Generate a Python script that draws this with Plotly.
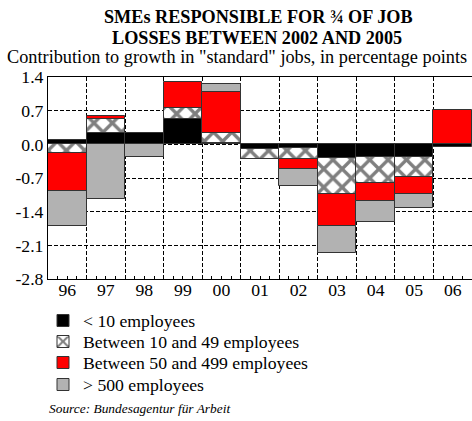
import plotly.graph_objects as go

# Contribution to growth in "standard" jobs, by firm size (percentage points)
years = ["96", "97", "98", "99", "00", "01", "02", "03", "04", "05", "06"]
lt_10 = [0.08, 0.23, 0.23, 0.52, 0.02, -0.10, -0.07, -0.28, -0.26, -0.26, -0.06]
b_10_49 = [-0.19, 0.29, None, 0.24, 0.22, -0.20, -0.24, -0.76, -0.55, -0.42, None]
b_50_499 = [-0.78, 0.06, None, 0.53, 0.84, None, -0.21, -0.65, -0.37, -0.35, 0.71]
gt_500 = [-0.72, -1.13, -0.27, None, 0.17, None, -0.35, -0.57, -0.43, -0.29, None]

y_ticks = [1.4, 0.7, 0.0, -0.7, -1.4, -2.1, -2.8]

FONT = "Liberation Serif"
W, H = 472, 421
L, R, T, B = 48, 0, 77, 142
PW, PH = W - L - R, H - T - B


def px(x):
    return (x - L) / PW


def py(y):
    return (H - B - y) / PH


pos = list(range(len(years)))
edge = "#333333"

series = [
    ("< 10 employees", lt_10, dict(color="#000000")),
    ("Between 10 and 49 employees", b_10_49,
     dict(color="#ffffff",
          pattern=dict(shape="x", fgcolor="#000000", bgcolor="#ffffff",
                       size=13, solidity=0.45))),
    ("Between 50 and 499 employees", b_50_499, dict(color="#ff0000")),
    ("> 500 employees", gt_500, dict(color="#b2b2b2")),
]
legend_ids = ["legend", "legend2", "legend3", "legend4"]
legend_rows = [321, 342, 363, 385]

fig = go.Figure()
for (name, vals, mk), lg in zip(series, legend_ids):
    mk = dict(mk, line=dict(color=edge, width=1))
    fig.add_bar(x=pos, y=vals, name=name, marker=mk, legend=lg)

# helper axis carrying the category-boundary grid and the small ticks
fig.add_scatter(x=pos, y=[None] * len(pos), xaxis="x2", yaxis="y",
                mode="lines", showlegend=False, hoverinfo="skip")

bounds = [i - 0.5 for i in range(len(years) + 1)]
xr = [-0.5, len(years) - 0.5]

layout_legends = {}
for lg, row in zip(legend_ids, legend_rows):
    layout_legends[lg] = dict(
        x=px(43), y=py(row), xanchor="left", yanchor="middle",
        font=dict(family=FONT, size=17.7, color="black"),
        bgcolor="rgba(0,0,0,0)", borderwidth=0)

fig.update_layout(
    width=W, height=H,
    margin=dict(l=L, r=R, t=T, b=B, pad=0),
    paper_bgcolor="white", plot_bgcolor="white",
    barmode="relative", bargap=0,
    font=dict(family=FONT, size=17.7, color="black"),
    showlegend=True,
    xaxis=dict(
        range=xr,
        tickmode="array", tickvals=pos, ticktext=years,
        ticks="", showgrid=False, ticklabelstandoff=-5,
        tickfont=dict(family=FONT, size=17.7, color="black"),
        showline=True, linecolor="black", linewidth=1, mirror=True,
        zeroline=False,
    ),
    xaxis2=dict(
        overlaying="x", matches="x", anchor="y", side="bottom",
        range=xr,
        tickmode="array", tickvals=bounds, ticktext=[""] * len(bounds),
        ticks="inside", ticklen=3, tickcolor="black",
        showgrid=True, gridcolor="black", gridwidth=1, griddash="4px,2px",
        showline=False, zeroline=False,
        minor=dict(tick0=-0.5, dtick=0.25, ticks="inside", ticklen=3,
                   tickcolor="black", showgrid=False),
    ),
    yaxis=dict(
        range=[-2.8, 1.4],
        tickmode="array", tickvals=y_ticks,
        ticktext=[f"{v:.1f}" for v in y_ticks],
        tickfont=dict(family=FONT, size=17.7, color="black"),
        ticks="", showgrid=True, gridcolor="black", gridwidth=1,
        griddash="4px,2px",
        showline=True, linecolor="black", linewidth=1,
        zeroline=False,
    ),
    **layout_legends,
)

fig.add_annotation(text="<b>SMEs RESPONSIBLE FOR ¾ OF JOB</b>",
                   x=px(258), y=py(17), xref="paper", yref="paper",
                   showarrow=False, xanchor="center", yanchor="middle",
                   font=dict(family=FONT, size=18.2, color="black"))
fig.add_annotation(text="<b>LOSSES BETWEEN 2002 AND 2005</b>",
                   x=px(257), y=py(38), xref="paper", yref="paper",
                   showarrow=False, xanchor="center", yanchor="middle",
                   font=dict(family=FONT, size=18.2, color="black"))
fig.add_annotation(text='Contribution to growth in "standard" jobs, in percentage points',
                   x=px(236.5), y=py(57), xref="paper", yref="paper",
                   showarrow=False, xanchor="center", yanchor="middle",
                   font=dict(family=FONT, size=18.3, color="black"))
fig.add_annotation(text="<i>Source: Bundesagentur für Arbeit</i>",
                   x=px(47), y=py(408), xref="paper", yref="paper",
                   showarrow=False, xanchor="left", yanchor="middle",
                   font=dict(family=FONT, size=13.4, color="black"))

fig.write_html("out.html")
